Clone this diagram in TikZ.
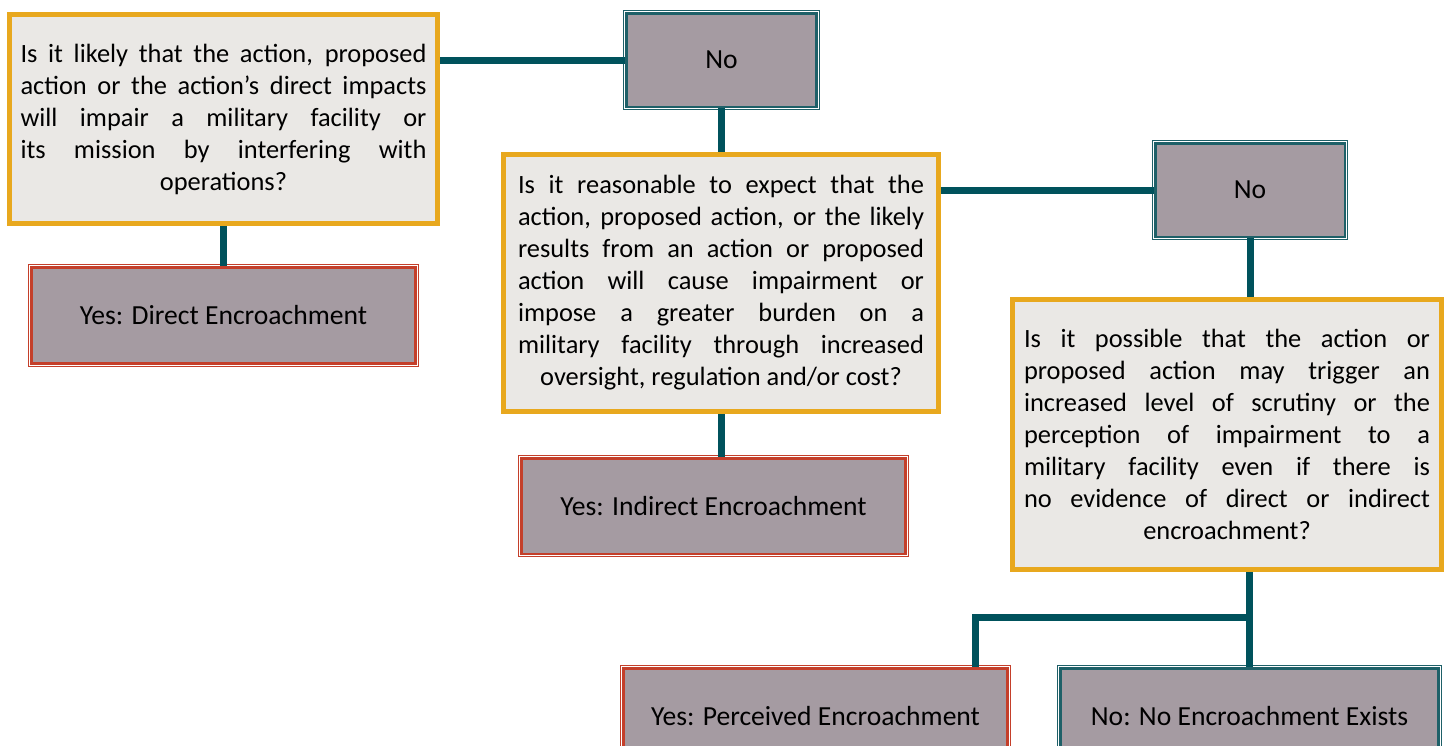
\documentclass[tikz,border=0pt]{standalone}
\usepackage{fontspec}
\setmainfont{Carlito}
\usetikzlibrary{positioning,calc}
\definecolor{qgold}{HTML}{E8A81E}
\definecolor{qpaper}{HTML}{EAE8E5}
\definecolor{lnteal}{HTML}{00525C}
\definecolor{bxteal}{HTML}{1E6068}
\definecolor{bxred}{HTML}{C43F2A}
\definecolor{bxmauve}{HTML}{A59BA2}
% justified lines, last line centred
\newcommand{\qtext}[1]{\raisebox{-2pt}{\parbox{203pt}{\leftskip=0pt plus 1fil\rightskip=0pt plus -1fil
  \parfillskip=0pt plus 2fil\hyphenpenalty=10000\tolerance=9999\emergencystretch=20pt
  \noindent #1\par}}}
\tikzset{
  question/.style={draw=qgold, line width=2.5pt, fill=qpaper, inner sep=0pt,
                   font=\fontsize{13.2}{16}\selectfont},
  answer/.style  ={fill=bxmauve, draw=#1, line width=1.1pt, inner sep=0pt,
                   font=\fontsize{13.8}{16}\selectfont,
                   preaction={draw=#1, line width=3.5pt},
                   preaction={draw=white, line width=2.5pt}},
  nobox/.style   ={answer=bxteal},
  yesbox/.style  ={answer=bxred},
  link/.style    ={draw=lnteal, line width=3.5pt},
}

\begin{document}
\begin{tikzpicture}[x=0.5pt,y=-0.5pt]
  \useasboundingbox (0,0) rectangle (1447,745);
  % questions
  \node[question, minimum width=214pt, minimum height=104.5pt] (Q1) at (223.5,119)
    {\qtext{Is it likely that the action, proposed\linebreak
     action or the action’s direct impacts\linebreak
     will impair a military facility or\linebreak
     its mission by interfering with\linebreak
     operations?}};
  \node[question, minimum width=217.5pt, minimum height=128.5pt] (Q2) at (721,283)
    {\qtext{Is it reasonable to expect that the\linebreak
     action, proposed action, or the likely\linebreak
     results from an action or proposed\linebreak
     action will cause impairment or\linebreak
     impose a greater burden on a\linebreak
     military facility through increased\linebreak
     oversight, regulation and/or cost?}};
  \node[question, minimum width=214.5pt, minimum height=135pt] (Q3) at (1227,434.5)
    {\qtext{Is it possible that the action or\linebreak
     proposed action may trigger an\linebreak
     increased level of scrutiny or the\linebreak
     perception of impairment to a\linebreak
     military facility even if there is\linebreak
     no evidence of direct or indirect\linebreak
     encroachment?}};
  % answers
  \node[nobox, minimum width=95pt, minimum height=46.6pt] (N1) at (721.5,60) {No};
  \node[nobox, minimum width=94.6pt, minimum height=46.6pt] (N2) at (1250,190) {No};
  \node[yesbox, minimum width=192pt, minimum height=48pt] (Y1) at (223.5,315.5) {Yes: Direct Encroachment};
  \node[yesbox, minimum width=192pt, minimum height=47.6pt] (Y2) at (713.5,506) {Yes: Indirect Encroachment};
  \node[yesbox, minimum width=192pt, minimum height=48pt] (Y3) at (815.5,716.4) {Yes: Perceived Encroachment};
  \node[nobox, minimum width=189pt, minimum height=48pt] (N3) at (1249.5,716.4) {No: No Encroachment Exists};
  % connectors
  \coordinate (fork) at (1249.5,617);
  \coordinate (forkyes) at (975,617);
  \draw[link] (N1.west) -- (N1.west -| Q1.east);
  \draw[link] (N1.south) -- (N1.south |- Q2.north);
  \draw[link] (Q1.south) -- (Y1.north);
  \draw[link] (N2.west) -- (N2.west -| Q2.east);
  \draw[link] (N2.south) -- (N2.south |- Q3.north);
  \draw[link] (Q2.south) -- (Q2.south |- Y2.north);
  \draw[link] (N3.north |- Q3.south) -- (N3.north);
  \draw[link] (fork) -- (forkyes) -- (forkyes |- Y3.north);
\end{tikzpicture}
\end{document}
